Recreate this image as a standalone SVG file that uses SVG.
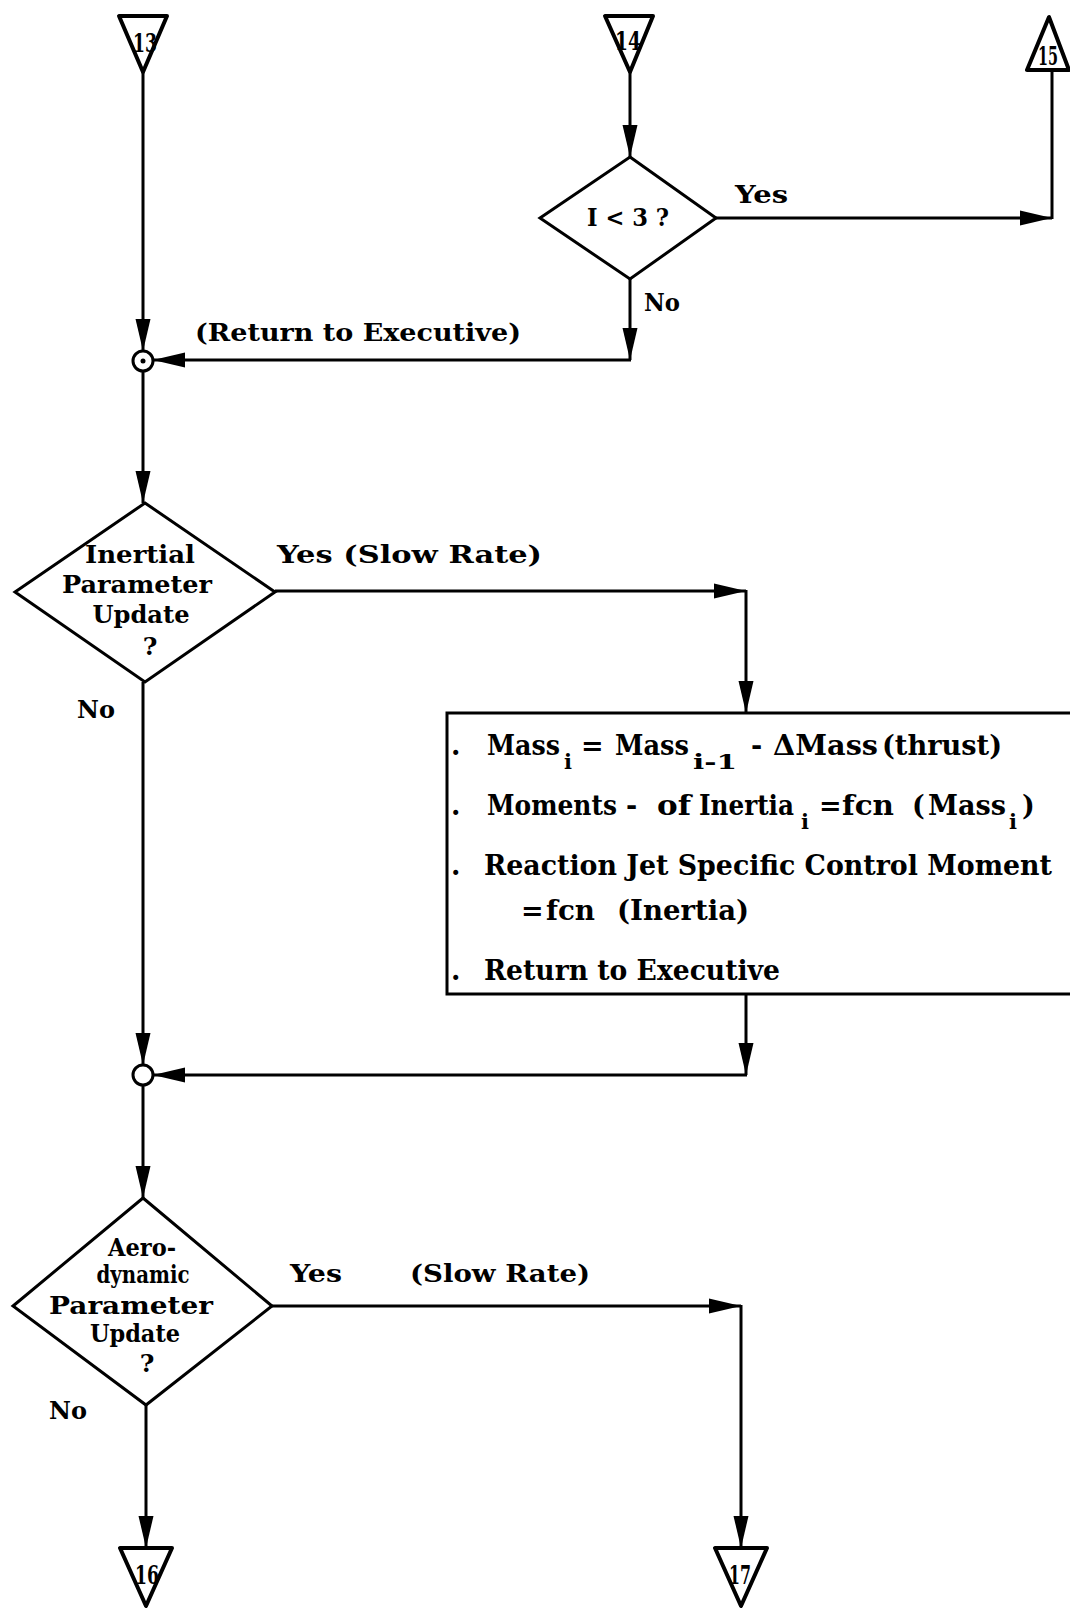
<svg xmlns="http://www.w3.org/2000/svg" width="1070" height="1608" viewBox="0 0 1070 1608">
<style>
.ln{stroke:#000;stroke-width:3;fill:none}
.sh{stroke:#000;stroke-width:3;fill:#fff}
.tri{stroke:#000;stroke-width:4;fill:#fff;stroke-linejoin:round}
text{font-family:"DejaVu Serif","Liberation Serif",serif;font-weight:bold;fill:#000}
.t{font-size:25px}
.b{font-size:27px}
.d{font-size:25px;text-anchor:middle}
.n{font-size:26px;text-anchor:middle}
.s{font-size:21px}
</style>
<defs>
<marker id="ah" viewBox="0 0 32 18" refX="32" refY="9" markerWidth="32" markerHeight="18" markerUnits="userSpaceOnUse" orient="auto">
<path d="M0,1.5 L32,9 L0,16.5 z" fill="#000"/>
</marker>
</defs>
<rect width="1070" height="1608" fill="#fff"/>
<g id="connectors">
<line class="ln" x1="143" y1="72" x2="143" y2="351" marker-end="url(#ah)"/>
<line class="ln" x1="630" y1="72" x2="630" y2="157" marker-end="url(#ah)"/>
<line class="ln" x1="716" y1="218" x2="1052" y2="218" marker-end="url(#ah)"/>
<line class="ln" x1="1052" y1="219" x2="1052" y2="70"/>
<line class="ln" x1="630" y1="279" x2="630" y2="360" marker-end="url(#ah)"/>
<line class="ln" x1="631" y1="360" x2="153" y2="360" marker-end="url(#ah)"/>
<line class="ln" x1="143" y1="371" x2="143" y2="503" marker-end="url(#ah)"/>
<line class="ln" x1="275" y1="591" x2="746" y2="591" marker-end="url(#ah)"/>
<line class="ln" x1="746" y1="590" x2="746" y2="713" marker-end="url(#ah)"/>
<line class="ln" x1="143" y1="682" x2="143" y2="1065" marker-end="url(#ah)"/>
<line class="ln" x1="746" y1="995" x2="746" y2="1075" marker-end="url(#ah)"/>
<line class="ln" x1="747" y1="1075" x2="153" y2="1075" marker-end="url(#ah)"/>
<line class="ln" x1="143" y1="1085" x2="143" y2="1198" marker-end="url(#ah)"/>
<line class="ln" x1="272" y1="1306" x2="741" y2="1306" marker-end="url(#ah)"/>
<line class="ln" x1="741" y1="1305" x2="741" y2="1548" marker-end="url(#ah)"/>
<line class="ln" x1="146" y1="1405" x2="146" y2="1548" marker-end="url(#ah)"/>
<text class="t" x="735" y="203" textLength="53" lengthAdjust="spacingAndGlyphs">Yes</text>
<text class="t" x="644" y="311" textLength="36" lengthAdjust="spacingAndGlyphs">No</text>
<text class="t" x="195" y="341" textLength="326" lengthAdjust="spacingAndGlyphs">(Return to Executive)</text>
<text class="t" x="277" y="563" textLength="265" lengthAdjust="spacingAndGlyphs">Yes  (Slow Rate)</text>
<text class="t" x="77" y="718" textLength="38" lengthAdjust="spacingAndGlyphs">No</text>
<text class="t" x="290" y="1282" textLength="52" lengthAdjust="spacingAndGlyphs">Yes</text>
<text class="t" x="410" y="1282" textLength="180" lengthAdjust="spacingAndGlyphs">(Slow Rate)</text>
<text class="t" x="49" y="1419" textLength="38" lengthAdjust="spacingAndGlyphs">No</text>
</g>
<g id="c13">
<polygon class="tri" points="119,16 167,16 143,72"/>
<text class="n" x="145" y="52" textLength="24" lengthAdjust="spacingAndGlyphs">13</text>
</g>
<g id="c14">
<polygon class="tri" points="605,16 653,16 630,72"/>
<text class="n" x="628" y="50" textLength="26" lengthAdjust="spacingAndGlyphs">14</text>
</g>
<g id="c15">
<polygon class="tri" points="1049,17 1027,70 1069,70"/>
<text class="n" x="1048" y="65" font-size="22" textLength="20" lengthAdjust="spacingAndGlyphs">15</text>
</g>
<g id="d1">
<polygon class="sh" points="630,157 716,218 630,279 540,218"/>
<text class="d" x="628" y="226" font-size="24" textLength="82" lengthAdjust="spacingAndGlyphs">I &lt; 3 ?</text>
</g>
<g id="j1">
<circle class="sh" cx="143" cy="361" r="10" stroke-width="3.5"/>
<circle cx="143" cy="361" r="2.5" fill="#000"/>
</g>
<g id="d2">
<polygon class="sh" points="145,503 275,592 145,682 15,592"/>
<text class="d" x="140" y="563" textLength="110" lengthAdjust="spacingAndGlyphs">Inertial</text>
<text class="d" x="137" y="593" textLength="150" lengthAdjust="spacingAndGlyphs">Parameter</text>
<text class="d" x="141" y="623" textLength="97" lengthAdjust="spacingAndGlyphs">Update</text>
<text class="d" x="150" y="655">?</text>
</g>
<g id="box">
<rect class="sh" x="447" y="713" width="640" height="281"/>
<text class="b"><tspan x="451" y="755">.</tspan><tspan x="487" y="755" textLength="73" lengthAdjust="spacingAndGlyphs">Mass</tspan><tspan class="s" x="564" y="769">i</tspan><tspan x="581" y="755">=</tspan><tspan x="615" y="755" textLength="74" lengthAdjust="spacingAndGlyphs">Mass</tspan><tspan class="s" x="693" y="769" textLength="44" lengthAdjust="spacingAndGlyphs">i-1</tspan><tspan x="751" y="755">-</tspan><tspan x="773" y="755" textLength="105" lengthAdjust="spacingAndGlyphs">ΔMass</tspan><tspan x="882" y="755" textLength="120" lengthAdjust="spacingAndGlyphs">(thrust)</tspan></text>
<text class="b"><tspan x="451" y="815">.</tspan><tspan x="487" y="815" textLength="130" lengthAdjust="spacingAndGlyphs">Moments</tspan><tspan x="626" y="815">-</tspan><tspan x="657" y="815" textLength="34" lengthAdjust="spacingAndGlyphs">of</tspan><tspan x="699" y="815" textLength="95" lengthAdjust="spacingAndGlyphs">Inertia</tspan><tspan class="s" x="801" y="829">i</tspan><tspan x="819" y="815">=</tspan><tspan x="842" y="815" textLength="52" lengthAdjust="spacingAndGlyphs">fcn</tspan><tspan x="912" y="815">(</tspan><tspan x="928" y="815" textLength="78" lengthAdjust="spacingAndGlyphs">Mass</tspan><tspan class="s" x="1009" y="829">i</tspan><tspan x="1022" y="815">)</tspan></text>
<text class="b"><tspan x="451" y="875">.</tspan><tspan x="484" y="875" textLength="568" lengthAdjust="spacingAndGlyphs">Reaction Jet Specific Control Moment</tspan></text>
<text class="b"><tspan x="521" y="920">=</tspan><tspan x="546" y="920" textLength="49" lengthAdjust="spacingAndGlyphs">fcn</tspan><tspan x="617" y="920" textLength="132" lengthAdjust="spacingAndGlyphs">(Inertia)</tspan></text>
<text class="b"><tspan x="451" y="980">.</tspan><tspan x="484" y="980" textLength="296" lengthAdjust="spacingAndGlyphs">Return to Executive</tspan></text>
</g>
<g id="j2">
<circle class="sh" cx="143" cy="1075" r="10" stroke-width="3.5"/>
</g>
<g id="d3">
<polygon class="sh" points="143,1198 272,1306 146,1405 13,1306"/>
<text class="d" x="142" y="1256" textLength="68" lengthAdjust="spacingAndGlyphs">Aero-</text>
<text class="d" x="143" y="1283" textLength="93" lengthAdjust="spacingAndGlyphs">dynamic</text>
<text class="d" x="131" y="1314" textLength="164" lengthAdjust="spacingAndGlyphs">Parameter</text>
<text class="d" x="135" y="1342" textLength="90" lengthAdjust="spacingAndGlyphs">Update</text>
<text class="d" x="147" y="1372">?</text>
</g>
<g id="c16">
<polygon class="tri" points="120,1548 172,1548 146,1606"/>
<text class="n" x="147" y="1584" textLength="24" lengthAdjust="spacingAndGlyphs">16</text>
</g>
<g id="c17">
<polygon class="tri" points="715,1548 767,1548 741,1606"/>
<text class="n" x="740" y="1584" textLength="22" lengthAdjust="spacingAndGlyphs">17</text>
</g>
</svg>
